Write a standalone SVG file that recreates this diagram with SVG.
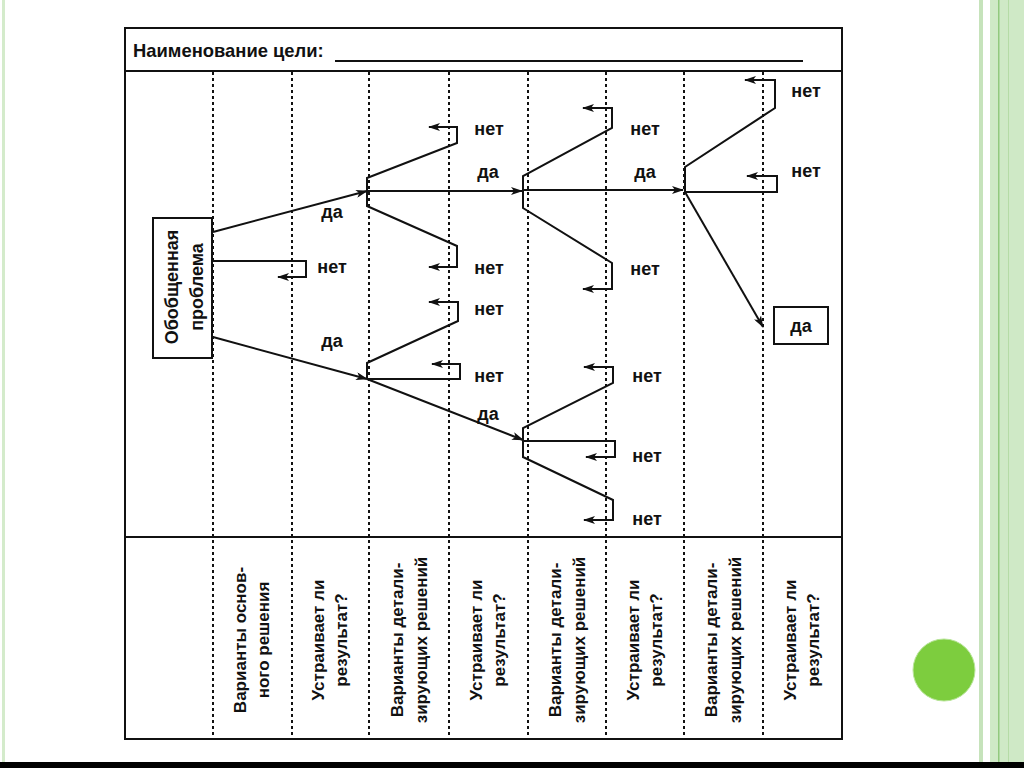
<svg xmlns="http://www.w3.org/2000/svg" width="1024" height="768" viewBox="0 0 1024 768">
<defs>
<style>
.t{font-family:"Liberation Sans",Arial,sans-serif;font-weight:bold;fill:#111}
.lb{font-size:18px;text-anchor:middle}
.col{font-size:17px;text-anchor:middle}
.c{fill:none;stroke:#111;stroke-width:2;stroke-linejoin:miter}
.dash{stroke:#111;stroke-width:2;stroke-dasharray:3 3}
.frame{fill:none;stroke:#111;stroke-width:2}
</style>
<marker id="ah" viewBox="0 0 12 8" refX="11" refY="4" markerWidth="12" markerHeight="8" markerUnits="userSpaceOnUse" orient="auto">
<path d="M0,0 L12,4 L0,8 L3,4 z" fill="#111"/>
</marker>
</defs>
<rect width="1024" height="768" fill="#fff"/>
<g id="decor">
<rect x="2" y="0" width="3" height="762" fill="#d4ebcb"/>
<rect x="979" y="0" width="4" height="762" fill="#c6e3bb"/>
<rect x="990" y="0" width="34" height="762" fill="#cfe9c6"/>
<rect x="998" y="0" width="1.5" height="762" fill="#92c97e"/>
<rect x="1008" y="0" width="1" height="762" fill="#b5dba6"/>
<circle cx="944" cy="670" r="31" fill="#7dcd3e" stroke="#b9e59a" stroke-width="1"/>
<rect x="0" y="762" width="1024" height="6" fill="#000"/>
</g>
<g id="frame">
<rect class="frame" x="125" y="28" width="717" height="711"/>
<line class="frame" x1="125" y1="71" x2="842" y2="71"/>
<line class="frame" x1="125" y1="537" x2="842" y2="537"/>
<text class="t" x="133" y="57" font-size="18.4">Наименование цели:</text>
<line x1="335" y1="61" x2="803" y2="61" stroke="#111" stroke-width="2"/>
</g>
<g id="grid">
<line class="dash" x1="213" y1="72" x2="213" y2="738"/>
<line class="dash" x1="292" y1="72" x2="292" y2="738"/>
<line class="dash" x1="369" y1="72" x2="369" y2="738"/>
<line class="dash" x1="449" y1="72" x2="449" y2="738"/>
<line class="dash" x1="528" y1="72" x2="528" y2="738"/>
<line class="dash" x1="606" y1="72" x2="606" y2="738"/>
<line class="dash" x1="684" y1="72" x2="684" y2="738"/>
<line class="dash" x1="763" y1="72" x2="763" y2="738"/>
</g>
<g id="problem">
<rect x="153" y="218" width="59" height="140" fill="#fff" stroke="#111" stroke-width="2"/>
<text class="t lb" transform="translate(178,287) rotate(-90)">Обобщенная</text>
<text class="t lb" transform="translate(203,287) rotate(-90)">проблема</text>
</g>
<g id="result-box">
<rect x="774" y="307" width="54" height="37" fill="#fff" stroke="#111" stroke-width="2"/>
<text class="t lb" x="801" y="332">да</text>
</g>
<g id="connectors">
<line class="c" x1="213" y1="232" x2="367" y2="191" marker-end="url(#ah)"/>
<path class="c" d="M213,261 H306 V277 H278" marker-end="url(#ah)"/>
<line class="c" x1="213" y1="337" x2="367" y2="379" marker-end="url(#ah)"/>
<path class="c" d="M367,191 V178 L457,143 V127 H429" marker-end="url(#ah)"/>
<path class="c" d="M367,191 V206 L457,246 V267 H429" marker-end="url(#ah)"/>
<path class="c" d="M367,191 H522" marker-end="url(#ah)"/>
<path class="c" d="M523,190 V176 L612,128 V108 H583" marker-end="url(#ah)"/>
<path class="c" d="M523,190 V208 L612,263 V289 H583" marker-end="url(#ah)"/>
<path class="c" d="M523,190 H683" marker-end="url(#ah)"/>
<path class="c" d="M685,192 V167 L775,108 V80 H745" marker-end="url(#ah)"/>
<path class="c" d="M685,192 H777 V176 H747" marker-end="url(#ah)"/>
<path class="c" d="M685,192 L763,327" marker-end="url(#ah)"/>
<path class="c" d="M367,379 V363 L458,321 V302 H429" marker-end="url(#ah)"/>
<path class="c" d="M367,379 H460 V364 H432" marker-end="url(#ah)"/>
<path class="c" d="M367,379 L523,440" marker-end="url(#ah)"/>
<path class="c" d="M523,441 V428 L613,383 V367 H584" marker-end="url(#ah)"/>
<path class="c" d="M523,441 H615 V457 H586" marker-end="url(#ah)"/>
<path class="c" d="M523,441 V457 L613,500 V520 H584" marker-end="url(#ah)"/>
</g>
<g id="labels">
<text class="t lb" x="332" y="218">да</text>
<text class="t lb" x="332" y="273">нет</text>
<text class="t lb" x="332" y="347">да</text>
<text class="t lb" x="489" y="135">нет</text>
<text class="t lb" x="488" y="178">да</text>
<text class="t lb" x="489" y="274">нет</text>
<text class="t lb" x="645" y="135">нет</text>
<text class="t lb" x="645" y="178">да</text>
<text class="t lb" x="645" y="275">нет</text>
<text class="t lb" x="806" y="97">нет</text>
<text class="t lb" x="806" y="177">нет</text>
<text class="t lb" x="489" y="315">нет</text>
<text class="t lb" x="489" y="382">нет</text>
<text class="t lb" x="488" y="420">да</text>
<text class="t lb" x="647" y="382">нет</text>
<text class="t lb" x="647" y="462">нет</text>
<text class="t lb" x="647" y="525">нет</text>
</g>
<g id="columns">
<text class="t col" transform="translate(246,640) rotate(-90)">Варианты основ-</text>
<text class="t col" transform="translate(269,640) rotate(-90)">ного решения</text>
<text class="t col" transform="translate(324,640) rotate(-90)">Устраивает ли</text>
<text class="t col" transform="translate(347,640) rotate(-90)">результат?</text>
<text class="t col" transform="translate(403,640) rotate(-90)">Варианты детали-</text>
<text class="t col" transform="translate(427,640) rotate(-90)">зирующих решений</text>
<text class="t col" transform="translate(482,640) rotate(-90)">Устраивает ли</text>
<text class="t col" transform="translate(505,640) rotate(-90)">результат?</text>
<text class="t col" transform="translate(561,640) rotate(-90)">Варианты детали-</text>
<text class="t col" transform="translate(585,640) rotate(-90)">зирующих решений</text>
<text class="t col" transform="translate(639,640) rotate(-90)">Устраивает ли</text>
<text class="t col" transform="translate(662,640) rotate(-90)">результат?</text>
<text class="t col" transform="translate(717,640) rotate(-90)">Варианты детали-</text>
<text class="t col" transform="translate(741,640) rotate(-90)">зирующих решений</text>
<text class="t col" transform="translate(796,640) rotate(-90)">Устраивает ли</text>
<text class="t col" transform="translate(819,640) rotate(-90)">результат?</text>
</g>
</svg>
